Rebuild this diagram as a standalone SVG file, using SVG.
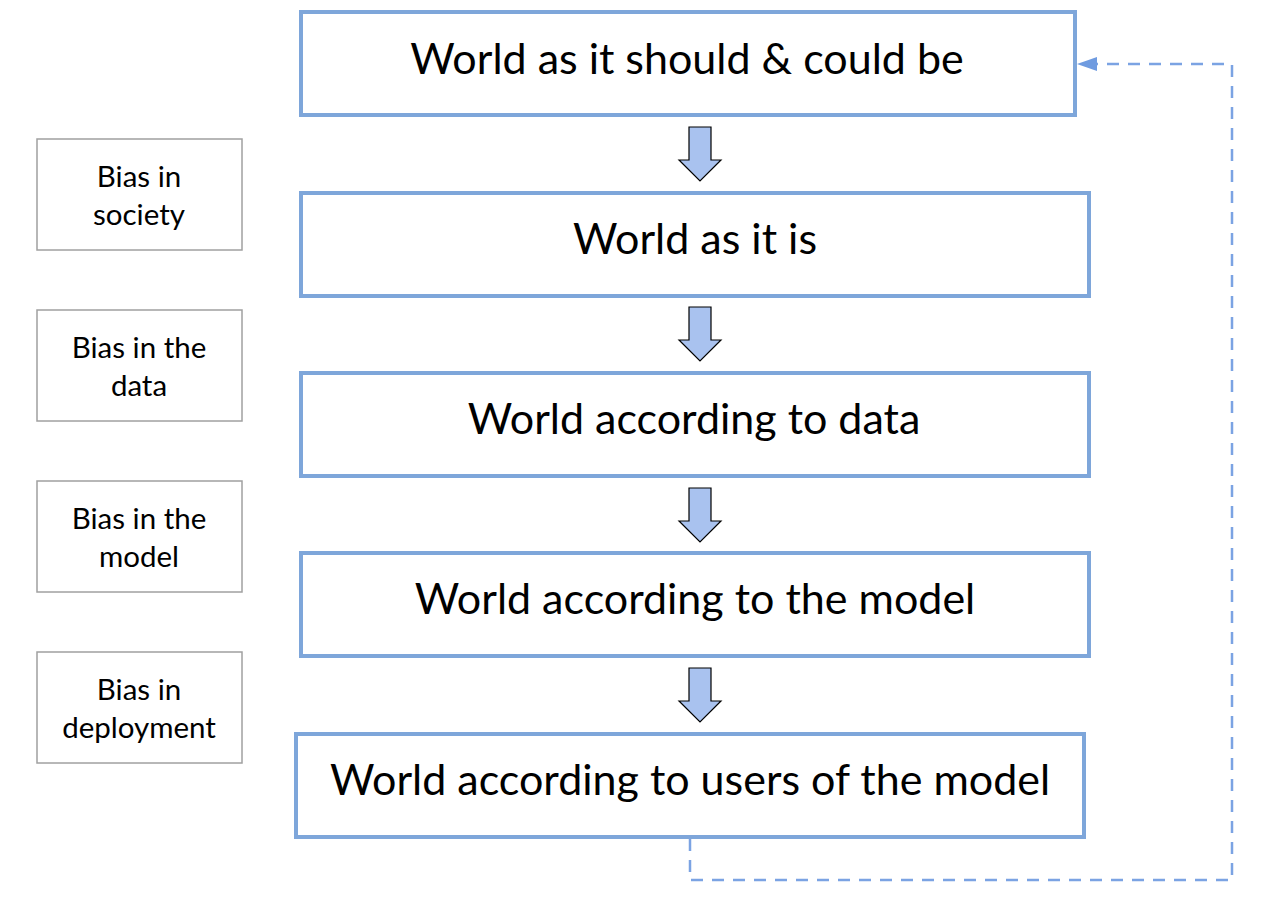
<svg xmlns="http://www.w3.org/2000/svg" width="1282" height="906" viewBox="0 0 1282 906">
<style>
.main{fill:#fff;stroke:#7ea6da;stroke-width:4}
.side{fill:#fff;stroke:#a0a0a0;stroke-width:1.5}
.mt{font-family:Lato,"Open Sans",sans-serif;font-size:43px;fill:#000;text-anchor:middle}
.st{font-family:Lato,"Open Sans",sans-serif;font-size:29.5px;fill:#000;text-anchor:middle}
.arr{fill:#a9c2ef;stroke:#000;stroke-width:1.2}
</style>
<g id="n1"><rect class="main" x="301" y="12" width="774" height="103"/><text class="mt" x="687" y="74">World as it should &amp; could be</text></g>
<g id="n2"><rect class="main" x="301" y="193" width="788" height="103"/><text class="mt" x="695" y="254">World as it is</text></g>
<g id="n3"><rect class="main" x="301" y="373" width="788" height="103"/><text class="mt" x="694" y="434">World according to data</text></g>
<g id="n4"><rect class="main" x="301" y="553" width="788" height="103"/><text class="mt" x="695" y="614">World according to the model</text></g>
<g id="n5"><rect class="main" x="296" y="734" width="788" height="103"/><text class="mt" x="690" y="795">World according to users of the model</text></g>
<g id="s1"><rect class="side" x="37" y="139" width="205" height="111"/><text class="st" x="139" y="187">Bias in</text><text class="st" x="139" y="225">society</text></g>
<g id="s2"><rect class="side" x="37" y="310" width="205" height="111"/><text class="st" x="139" y="358">Bias in the</text><text class="st" x="139" y="396">data</text></g>
<g id="s3"><rect class="side" x="37" y="481" width="205" height="111"/><text class="st" x="139" y="529">Bias in the</text><text class="st" x="139" y="567">model</text></g>
<g id="s4"><rect class="side" x="37" y="652" width="205" height="111"/><text class="st" x="139" y="700">Bias in</text><text class="st" x="139" y="738">deployment</text></g>
<g id="connectors">
<polygon class="arr" points="689,127 711,127 711,160 721,160 700,181 679,160 689,160"/>
<polygon class="arr" points="689,307 711,307 711,340 721,340 700,361 679,340 689,340"/>
<polygon class="arr" points="689,488 711,488 711,521 721,521 700,542 679,521 689,521"/>
<polygon class="arr" points="689,668 711,668 711,701 721,701 700,722 679,701 689,701"/>
<polyline points="690,839 690,880 1232,880 1232,64 1094,64" fill="none" stroke="#7ba3e3" stroke-width="2.5" stroke-dasharray="12,9"/>
<polygon points="1077,64 1097,57 1097,71" fill="#6f9be0"/>
</g>
</svg>
